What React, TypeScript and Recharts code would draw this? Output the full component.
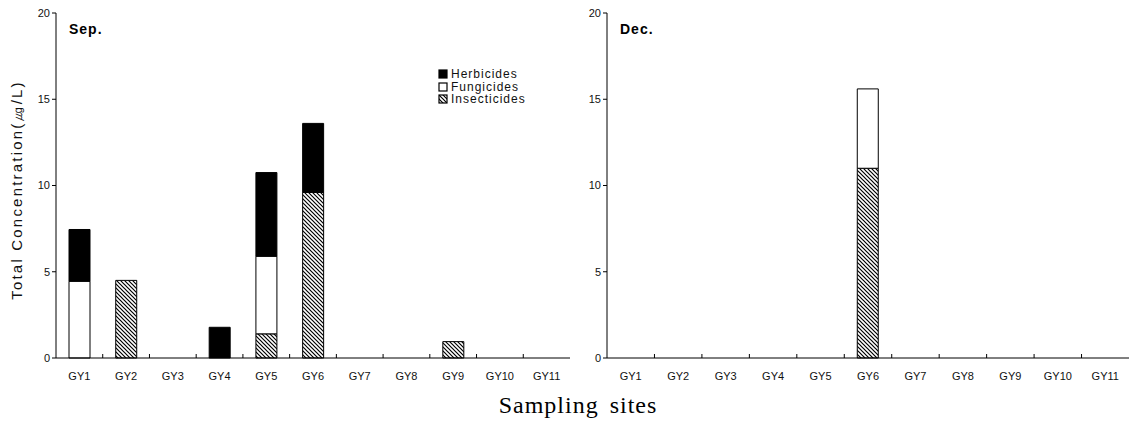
import { BarChart, Bar, XAxis, YAxis, Legend } from "recharts";

const sites = ["GY1", "GY2", "GY3", "GY4", "GY5", "GY6", "GY7", "GY8", "GY9", "GY10", "GY11"];

// September (µg/L)
const sepInsecticides = [0, 4.5, 0, 0, 1.4, 9.6, 0, 0, 0.95, 0, 0];
const sepFungicides = [4.45, 0, 0, 0, 4.5, 0, 0, 0, 0, 0, 0];
const sepHerbicides = [3.0, 0, 0, 1.78, 4.85, 4.0, 0, 0, 0, 0, 0];

// December (µg/L)
const decInsecticides = [0, 0, 0, 0, 0, 11.0, 0, 0, 0, 0, 0];
const decFungicides = [0, 0, 0, 0, 0, 4.6, 0, 0, 0, 0, 0];
const decHerbicides = [0, 0, 0, 0, 0, 0, 0, 0, 0, 0, 0];

const yTicks = [0, 5, 10, 15, 20];

const sepData = sites.map((site, i) => ({
  site,
  Insecticides: sepInsecticides[i],
  Fungicides: sepFungicides[i],
  Herbicides: sepHerbicides[i],
}));

const decData = sites.map((site, i) => ({
  site,
  Insecticides: decInsecticides[i],
  Fungicides: decFungicides[i],
  Herbicides: decHerbicides[i],
}));

const font = "'Liberation Sans', Arial, sans-serif";
const TOP = 13;
const AXIS_Y = 358;

function makeTick(plotWidth: number) {
  const step = plotWidth / sites.length;
  return (props: any) => {
    const { x, payload, index } = props;
    return (
      <g>
        {index < sites.length - 1 && (
          <line x1={x + step / 2} x2={x + step / 2} y1={AXIS_Y} y2={AXIS_Y - 4} stroke="#000" />
        )}
        <text x={x} y={AXIS_Y + 22} textAnchor="middle" fontSize={11} fontFamily={font} fill="#111">
          {payload.value}
        </text>
      </g>
    );
  };
}

function renderLegend() {
  const items = [
    { name: "Herbicides", fill: "#000" },
    { name: "Fungicides", fill: "#fff" },
    { name: "Insecticides", fill: "url(#hatch)" },
  ];
  return (
    <div style={{ fontFamily: font, fontSize: 12, letterSpacing: 1, color: "#111" }}>
      {items.map((it) => (
        <div key={it.name} style={{ display: "flex", alignItems: "center", height: 12.5 }}>
          <svg width={10} height={10} style={{ marginRight: 3 }}>
            <rect x={1} y={1} width={8} height={8} fill={it.fill} stroke="#000" strokeWidth={1.2} />
          </svg>
          {it.name}
        </div>
      ))}
    </div>
  );
}

function Panel({ data, left, width, label, legend }: any) {
  const marginLeft = left;
  const yWidth = 40;
  const marginRight = 4;
  const plotWidth = width - marginLeft - yWidth - marginRight;
  return (
    <BarChart
      width={width}
      height={421}
      data={data}
      margin={{ top: TOP, right: marginRight, left: marginLeft, bottom: 421 - AXIS_Y - 30 }}
      barSize={21}
    >
      <XAxis
        dataKey="site"
        height={30}
        axisLine={{ stroke: "#000" }}
        tickLine={false}
        tick={makeTick(plotWidth)}
        interval={0}
      />
      <YAxis
        width={yWidth}
        domain={[0, 20]}
        ticks={yTicks}
        axisLine={{ stroke: "#000" }}
        tickLine={{ stroke: "#000" }}
        tickSize={4}
        tick={{ fontSize: 11, fontFamily: font, fill: "#111" }}
      />
      {legend && (
        <Legend
          layout="horizontal"
          verticalAlign="middle"
          align="center"
          wrapperStyle={{ left: 438, top: 68, width: 130 }}
          content={renderLegend}
        />
      )}
      <Bar dataKey="Insecticides" stackId="a" fill="url(#hatch)" stroke="#000" strokeWidth={1} isAnimationActive={false} />
      <Bar dataKey="Fungicides" stackId="a" fill="#fff" stroke="#000" strokeWidth={1} isAnimationActive={false} />
      <Bar dataKey="Herbicides" stackId="a" fill="#000" stroke="#000" strokeWidth={1} isAnimationActive={false} />
      <text x={left + yWidth + 13} y={34} fontFamily={font} fontWeight="bold" fontSize={14} letterSpacing={1} fill="#000">
        {label}
      </text>
    </BarChart>
  );
}

export default function App() {
  return (
    <div style={{ position: "absolute", left: 0, top: 0, width: 1135, height: 421, background: "#fff" }}>
      <svg width={0} height={0} style={{ position: "absolute" }}>
        <defs>
          <pattern id="hatch" patternUnits="userSpaceOnUse" width={4} height={4}>
            <rect width={4} height={4} fill="#fff" />
            <path d="M-1,-1 L5,5 M-1,3 L1,5 M3,-1 L5,1" stroke="#000" strokeWidth={1.2} />
          </pattern>
        </defs>
      </svg>
      <div style={{ position: "absolute", left: 0, top: 0 }}>
        <Panel data={sepData} left={16} width={574} label="Sep." legend />
      </div>
      <div style={{ position: "absolute", left: 551, top: 0 }}>
        <Panel data={decData} left={16} width={582} label="Dec." />
      </div>
      <div
        style={{
          position: "absolute",
          left: 17,
          top: 190,
          transform: "translate(-50%, -50%) rotate(-90deg)",
          whiteSpace: "nowrap",
          fontFamily: font,
          fontSize: 15,
          letterSpacing: 2.2,
          color: "#111",
        }}
      >
        Total Concentration(㎍/L)
      </div>
      <div
        style={{
          position: "absolute",
          left: 578,
          top: 405,
          transform: "translate(-50%, -50%)",
          whiteSpace: "nowrap",
          fontFamily: "'Liberation Serif', 'Times New Roman', serif",
          fontSize: 24,
          letterSpacing: 1,
          wordSpacing: 4,
          color: "#000",
        }}
      >
        Sampling sites
      </div>
    </div>
  );
}
